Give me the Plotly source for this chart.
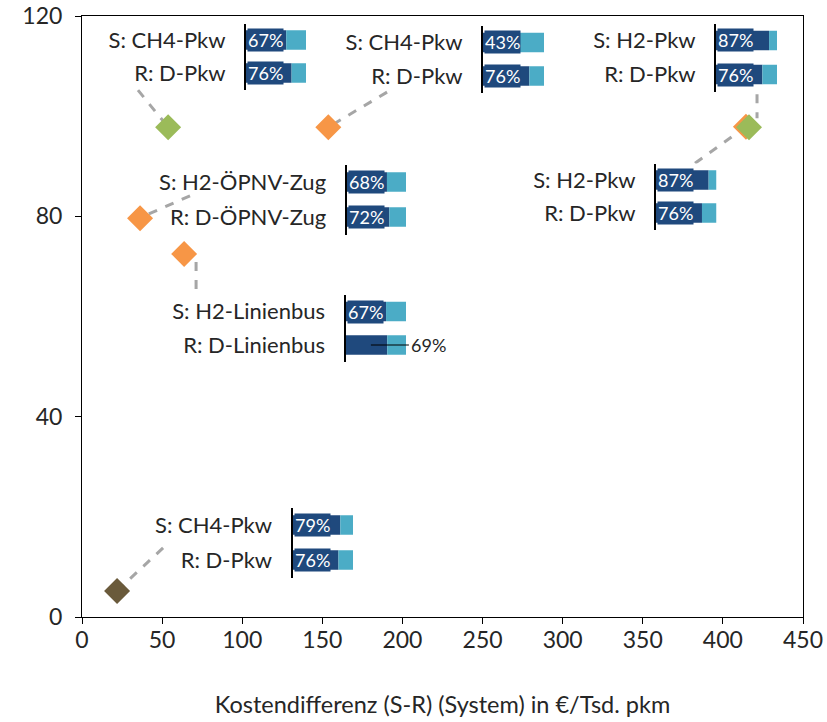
import plotly.graph_objects as go

# ---------------- data ----------------
pt_x = [21.9, 53.75, 153.75, 36.25, 63.75, 414.4, 416.3]
pt_y = [5.2, 97.8, 97.8, 79.6, 72.5, 97.9, 97.8]
pt_colors = ["#6A5A3B", "#9BBB59", "#F79646", "#F79646", "#F79646", "#F79646", "#9BBB59"]

inset_s_labels = ["S: CH4-Pkw", "S: CH4-Pkw", "S: H2-Pkw", "S: H2-ÖPNV-Zug", "S: H2-Pkw", "S: H2-Linienbus", "S: CH4-Pkw"]
inset_r_labels = ["R: D-Pkw", "R: D-Pkw", "R: D-Pkw", "R: D-ÖPNV-Zug", "R: D-Pkw", "R: D-Linienbus", "R: D-Pkw"]
inset_s_pct = [67, 43, 87, 68, 87, 67, 79]
inset_r_pct = [76, 76, 76, 72, 76, 69, 76]

x_ticks = [0, 50, 100, 150, 200, 250, 300, 350, 400, 450]
y_ticks = [0, 40, 80, 120]
x_title = "Kostendifferenz (S-R) (System) in €/Tsd. pkm"

# ---------------- layout constants ----------------
W, H = 827, 722
ML, MR, MT, MB = 82, 24, 16, 105
PW, PH = W - ML - MR, H - MT - MB

# inset placement in pixels: (axis_x, bar_end_x, s_row_center_y, r_row_center_y)
inset_pos = [
    (246, 306, 40, 73),
    (483, 544, 42.5, 76),
    (716, 777, 40.5, 74.5),
    (346.5, 406, 182, 217),
    (656, 716.5, 180, 213),
    (345.5, 406, 311.5, 345),
    (292.5, 353, 525, 560),
]
outside_label = [False, False, False, False, False, True, False]  # R-row label outside (69%)

# dashed leader lines (data coords)
leaders = [
    ((34.95, 105.2), (53.75, 97.8)),
    ((190.4, 104.8), (153.75, 97.8)),
    ((421.3, 104.4), (421.3, 99.6)),
    ((382.6, 90.6), (413.8, 97.8)),
    ((67.4, 84.1), (36.2, 79.7)),
    ((71.2, 70.9), (71.2, 64.1)),
    ((50.6, 13.8), (21.8, 5.2)),
]

DARK = "#1F497D"
LIGHT = "#4BACC6"
FONT = "Lato"
TXT = "#262626"

fig = go.Figure()

fig.add_trace(go.Scatter(
    x=pt_x, y=pt_y, mode="markers",
    marker=dict(symbol="diamond", size=20, color=pt_colors, line=dict(width=0)),
    hoverinfo="skip", xaxis="x", yaxis="y",
))

shapes = []
for (a, b) in leaders:
    shapes.append(dict(type="line", xref="x", yref="y", x0=a[0], y0=a[1], x1=b[0], y1=b[1],
                       line=dict(color="#A6A6A6", width=3, dash="dash"), layer="below"))

annotations = []
layout_axes = {}
for i, (sl, rl, sv, rv, pos, outl) in enumerate(zip(inset_s_labels, inset_r_labels, inset_s_pct,
                                                     inset_r_pct, inset_pos, outside_label)):
    n = i + 2
    ax_px, end_px, sc, rc = pos
    slot = rc - sc
    top = sc - slot / 2
    bot = rc + slot / 2
    xd = [(ax_px - ML) / PW, (end_px - ML) / PW]
    yd = [(H - MB - bot) / PH, (H - MB - top) / PH]
    bw = 19.5 / slot
    xa, ya = f"x{n}", f"y{n}"
    layout_axes[f"xaxis{n}"] = dict(domain=xd, range=[0, 100], anchor=ya, visible=False,
                                    fixedrange=True, automargin=False)
    layout_axes[f"yaxis{n}"] = dict(domain=yd, anchor=xa, range=[1.5, -0.5], tickvals=[0, 1],
                                    ticktext=[sl, rl], showline=True, linecolor="black", linewidth=2,
                                    ticks="", showgrid=False, zeroline=False, fixedrange=True,
                                    automargin=False,
                                    tickfont=dict(family=FONT, size=22, color=TXT),
                                    ticklabelstandoff=14)
    vals = [sv, rv]
    fig.add_trace(go.Bar(x=vals, y=[0, 1], base=[0, 0], orientation="h", width=bw,
                         marker=dict(color=DARK, line=dict(width=0)), xaxis=xa, yaxis=ya,
                         hoverinfo="skip"))
    fig.add_trace(go.Bar(x=[100 - v for v in vals], y=[0, 1], base=vals, orientation="h", width=bw,
                         marker=dict(color=LIGHT, line=dict(width=0)), xaxis=xa, yaxis=ya,
                         hoverinfo="skip"))
    for row, v in enumerate(vals):
        if row == 1 and outl:
            annotations.append(dict(x=42, y=row, xref=xa, yref=ya, text=f"{v}%", showarrow=True,
                                    arrowhead=0, arrowwidth=1, arrowcolor="black", ax=38, ay=0,
                                    xanchor="left", font=dict(family=FONT, size=18, color=TXT)))
        else:
            annotations.append(dict(x=0, y=row, xref=xa, yref=ya, text=f"{v}%", showarrow=False,
                                    xanchor="left", yanchor="middle", bgcolor=DARK, borderpad=0,
                                    xshift=1, font=dict(family=FONT, size=18, color="white")))

fig.update_layout(
    width=W, height=H, margin=dict(l=ML, r=MR, t=MT, b=MB, autoexpand=False),
    plot_bgcolor="white", paper_bgcolor="white", showlegend=False, barmode="overlay",
    font=dict(family=FONT, color=TXT),
    xaxis=dict(range=[0, 450], tickvals=x_ticks, ticks="outside", ticklen=6, tickcolor="black",
               showline=True, linecolor="black", linewidth=1, mirror=True, showgrid=False,
               zeroline=False, tickfont=dict(family=FONT, size=23, color=TXT), automargin=False,
               ticklabelstandoff=-4,
               title=dict(text=x_title, font=dict(family=FONT, size=23.5, color=TXT), standoff=44),
               fixedrange=True),
    yaxis=dict(range=[0, 120], tickvals=y_ticks, ticks="outside", ticklen=6, tickcolor="black",
               showline=True, linecolor="black", linewidth=1, mirror=True, showgrid=False,
               zeroline=False, tickfont=dict(family=FONT, size=23, color=TXT), automargin=False,
               ticklabelstandoff=8, fixedrange=True),
    shapes=shapes, annotations=annotations,
    **layout_axes,
)

fig.write_html("out.html", config={"displayModeBar": False})
